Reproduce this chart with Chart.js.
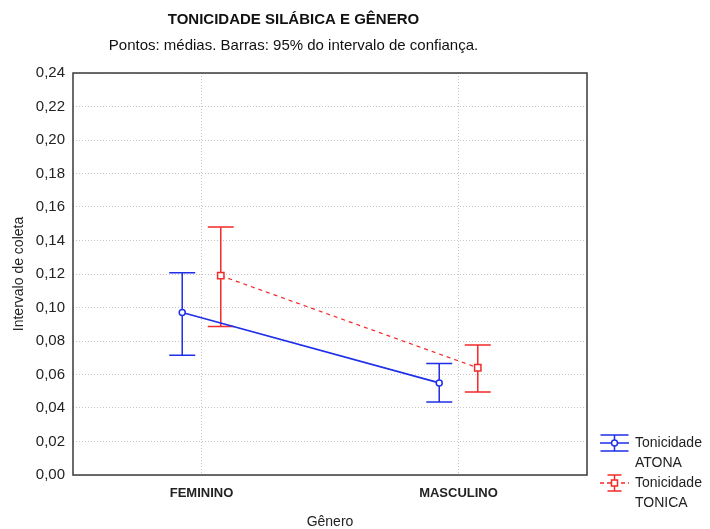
<!DOCTYPE html>
<html>
<head>
<meta charset="utf-8">
<script src="https://cdn.jsdelivr.net/npm/chart.js@4.4.0/dist/chart.umd.min.js"></script>
<style>
  html, body { margin: 0; padding: 0; background: #fff; }
  #wrap { width: 710px; height: 529px; position: relative; }
</style>
</head>
<body>
<div id="wrap"><canvas id="grafico"></canvas></div>
<script>
// categorias e valores (medias e limites do IC 95%)
var generos = ["FEMININO", "MASCULINO"];
var atonaMedia = [0.097, 0.055];
var atonaInf = [0.0715, 0.0436];
var atonaSup = [0.1208, 0.0665];
var tonicaMedia = [0.119, 0.064];
var tonicaInf = [0.0887, 0.0495];
var tonicaSup = [0.148, 0.0776];
var legendaTextos = [["Tonicidade", "ATONA"], ["Tonicidade", "TONICA"]];

var desloc = 0.075; // deslocamento das series dentro de cada categoria
var azul = "#1f2fe8";
var vermelho = "#f42a2a";
var fonte = "'Liberation Sans', Arial, sans-serif";

function pontos(medias, d) {
  return medias.map(function (m, i) { return { x: i + d, y: m }; });
}

// barras de erro desenhadas antes dos pontos
var barrasErro = {
  id: "barrasErro",
  beforeDatasetsDraw: function (chart) {
    var ctx = chart.ctx, xs = chart.scales.x, ys = chart.scales.y;
    chart.data.datasets.forEach(function (ds) {
      ctx.save();
      ctx.strokeStyle = ds.borderColor;
      ctx.lineWidth = 1.5;
      ds.data.forEach(function (p, i) {
        var x = xs.getPixelForValue(p.x);
        var yi = ys.getPixelForValue(ds.inf[i]);
        var ys2 = ys.getPixelForValue(ds.sup[i]);
        ctx.beginPath();
        ctx.moveTo(x, yi); ctx.lineTo(x, ys2);
        ctx.moveTo(x - 13, yi); ctx.lineTo(x + 13, yi);
        ctx.moveTo(x - 13, ys2); ctx.lineTo(x + 13, ys2);
        ctx.stroke();
      });
      ctx.restore();
    });
  }
};

// moldura da area e legenda
var moldura = {
  id: "moldura",
  afterDraw: function (chart) {
    var ctx = chart.ctx, a = chart.chartArea;
    ctx.save();
    ctx.strokeStyle = "#3a3a3a";
    ctx.lineWidth = 1.5;
    ctx.strokeRect(a.left, a.top, a.right - a.left, a.bottom - a.top);

    var yBase = [443, 483];
    chart.data.datasets.forEach(function (ds, k) {
      var y = yBase[k];
      ctx.strokeStyle = ds.borderColor;
      ctx.lineWidth = 1.5;
      ctx.setLineDash(k === 1 ? [4, 3] : []);
      ctx.beginPath(); ctx.moveTo(600, y); ctx.lineTo(629, y); ctx.stroke();
      ctx.setLineDash([]);
      var cw = k === 0 ? 14 : 7;
      ctx.beginPath();
      ctx.moveTo(614.5, y - 8); ctx.lineTo(614.5, y + 8);
      ctx.moveTo(614.5 - cw, y - 8); ctx.lineTo(614.5 + cw, y - 8);
      ctx.moveTo(614.5 - cw, y + 8); ctx.lineTo(614.5 + cw, y + 8);
      ctx.stroke();
      ctx.fillStyle = "#fff";
      ctx.beginPath();
      if (k === 0) ctx.arc(614.5, y, 3, 0, Math.PI * 2);
      else ctx.rect(611.5, y - 3, 6, 6);
      ctx.fill(); ctx.stroke();
      ctx.fillStyle = "#222";
      ctx.font = "14px " + fonte;
      ctx.textBaseline = "middle";
      ctx.textAlign = "left";
      ctx.fillText(legendaTextos[k][0], 635, y);
      ctx.fillText(legendaTextos[k][1], 635, y + 20);
    });
    ctx.restore();
  }
};

var ctx = document.getElementById("grafico").getContext("2d");
var grafico = new Chart(ctx, {
  type: "line",
  data: {
    datasets: [
      {
        label: "Tonicidade ATONA",
        data: pontos(atonaMedia, -desloc),
        inf: atonaInf,
        sup: atonaSup,
        borderColor: azul,
        borderWidth: 1.6,
        pointStyle: "circle",
        pointRadius: 3,
        pointBorderWidth: 1.5,
        pointBackgroundColor: "#fff",
        pointBorderColor: azul,
      },
      {
        label: "Tonicidade TONICA",
        data: pontos(tonicaMedia, desloc),
        inf: tonicaInf,
        sup: tonicaSup,
        borderColor: vermelho,
        borderWidth: 1.2,
        borderDash: [4, 4],
        pointStyle: "rect",
        pointRadius: 4.5,
        pointBorderWidth: 1.5,
        pointBackgroundColor: "#fff",
        pointBorderColor: vermelho,
      },
    ],
  },
  options: {
    responsive: true,
    maintainAspectRatio: false,
    animation: false,
    layout: { padding: { left: 0, right: 123, top: 0, bottom: 0 } },
    plugins: {
      legend: { display: false },
      tooltip: { enabled: false },
      title: {
        display: true,
        text: "TONICIDADE SILÁBICA E GÊNERO",
        color: "#111",
        font: { family: fonte, size: 15, weight: "bold", lineHeight: 1.2 },
        padding: { top: 11, bottom: 0 },
      },
      subtitle: {
        display: true,
        text: "Pontos: médias. Barras: 95% do intervalo de confiança.",
        color: "#111",
        font: { family: fonte, size: 15, lineHeight: 1.2 },
        padding: { top: 8, bottom: 18 },
      },
    },
    scales: {
      x: {
        type: "linear",
        min: -0.5,
        max: 1.5,
        afterBuildTicks: function (s) {
          s.ticks = generos.map(function (g, i) { return { value: i }; });
        },
        afterFit: function (s) { s.height = 54; },
        ticks: {
          padding: 11,
          color: "#222",
          font: { family: fonte, size: 13, weight: "bold" },
          callback: function (v) { return generos[v]; },
        },
        grid: { color: "#c4c4c4", drawTicks: false },
        border: { display: false, dash: [1, 2] },
        title: {
          display: true,
          text: "Gênero",
          color: "#222",
          font: { family: fonte, size: 14, lineHeight: 1 },
          padding: { top: 0, bottom: 0 },
        },
      },
      y: {
        min: 0,
        max: 0.24,
        afterFit: function (s) { s.width = 73; },
        ticks: {
          stepSize: 0.02,
          padding: 8,
          color: "#222",
          font: { family: fonte, size: 15 },
          callback: function (v) { return v.toFixed(2).replace(".", ","); },
        },
        grid: { color: "#c4c4c4", drawTicks: false },
        border: { display: false, dash: [1, 2] },
        title: {
          display: true,
          text: "Intervalo de coleta",
          color: "#222",
          font: { family: fonte, size: 14, lineHeight: 1.2 },
          padding: { top: 11, bottom: 0 },
        },
      },
    },
  },
  plugins: [barrasErro, moldura],
});
</script>
</body>
</html>
